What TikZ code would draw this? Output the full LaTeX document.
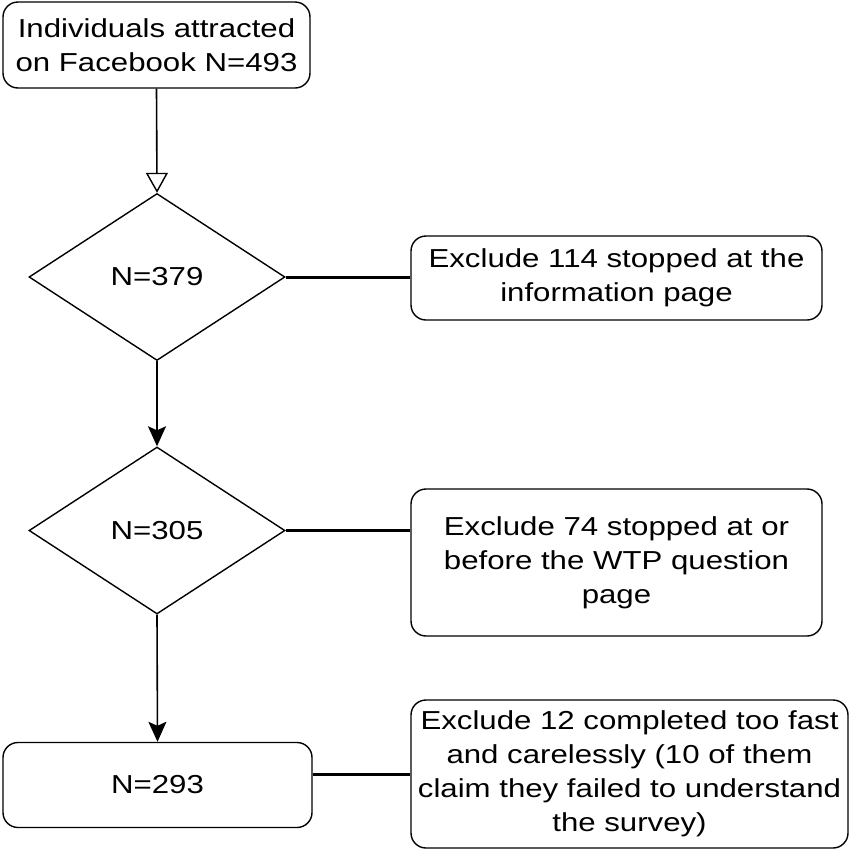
\documentclass[tikz,border=0pt]{standalone}
\usepackage{fontspec}
\setmainfont{Liberation Sans}[FakeStretch=1.2]
\usetikzlibrary{shapes.geometric,arrows.meta}
\begin{document}
\begin{tikzpicture}[x=1pt,y=-1pt,
  box/.style={draw, line width=1.4pt, rounded corners=15pt, align=center, inner sep=0pt,
    font=\fontsize{26}{34}\selectfont},
  dia/.style={draw, diamond, line width=1.4pt, minimum width=256pt, minimum height=167pt,
    inner sep=0pt, font=\fontsize{26}{34}\selectfont},
  flow/.style={line width=1.6pt},
  side/.style={line width=3pt},
]
\useasboundingbox (0,0) rectangle (851,852);
\node[box, minimum width=307pt, minimum height=86pt] (top) at (156.5,45) {Individuals attracted\\on Facebook N=493};
\node[dia] (d1) at (157,277) {N=379};
\node[box, minimum width=411pt, minimum height=84pt] (r1) at (616.5,278) {Exclude 114 stopped at the\\information page};
\node[dia] (d2) at (157,530.5) {N=305};
\node[box, minimum width=411pt, minimum height=147pt] (r2) at (616.5,562.5) {Exclude 74 stopped at or\\before the WTP question\\page};
\node[box, minimum width=309pt, minimum height=85pt] (b3) at (157.5,785) {N=293};
\node[box, minimum width=437pt, minimum height=148pt] (r3) at (629.5,774) {Exclude 12 completed too fast\\and carelessly (10 of them\\claim they failed to understand\\the survey)};
\draw[flow, -{Triangle[open,length=20pt,width=22pt,line width=1.4pt]}] (top.south) -- (d1.north);
\draw[flow, -{Stealth[length=20pt,width=18pt,inset=4pt]}] (d1.south) -- (d2.north);
\draw[flow, -{Stealth[length=20pt,width=18pt,inset=4pt]}] (d2.south) -- (b3.north);
\draw[side] (d1.east) -- (d1.east -| r1.west);
\draw[side] (d2.east) -- (d2.east -| r2.west);
\draw[side] (r3.west -| b3.east) -- (r3.west);
\end{tikzpicture}
\end{document}
